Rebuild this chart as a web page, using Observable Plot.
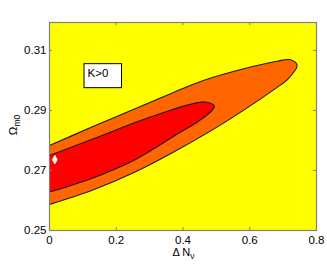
<!DOCTYPE html>
<html>
<head>
<meta charset="utf-8">
<script src="https://cdn.jsdelivr.net/npm/d3@7"></script>
<script src="https://cdn.jsdelivr.net/npm/@observablehq/plot@0.6"></script>
<style>
  html, body { margin: 0; padding: 0; background: white; }
  #chart { width: 327px; height: 265px; }
</style>
</head>
<body>
<div id="chart"></div>
<script>
// Tick values
const xTicks = [0, 0.2, 0.4, 0.6, 0.8];
const yTicks = [0.25, 0.27, 0.29, 0.31];

// Outer (2-sigma) contour, upper branch from x=0 to tip
const outerUpperX = [0, 0.132, 0.267, 0.363, 0.461, 0.582, 0.682, 0.722, 0.742];
const outerUpperY = [0.2783, 0.2847, 0.2911, 0.2956, 0.3000, 0.3039, 0.3064, 0.3069, 0.3050];
// Outer contour, lower branch from tip back to x=0
const outerLowerX = [0.712, 0.682, 0.582, 0.482, 0.368, 0.255, 0.132, 0];
const outerLowerY = [0.3002, 0.2977, 0.2901, 0.2831, 0.2759, 0.2694, 0.2636, 0.2587];

// Inner (1-sigma) contour, upper branch
const innerUpperX = [0, 0.132, 0.267, 0.36, 0.443, 0.467, 0.494];
const innerUpperY = [0.2750, 0.2806, 0.2864, 0.2900, 0.2926, 0.2928, 0.2915];
// Inner contour, lower branch
const innerLowerX = [0.487, 0.443, 0.393, 0.255, 0.132, 0];
const innerLowerY = [0.2900, 0.2861, 0.2828, 0.2735, 0.2676, 0.2628];

// Best-fit point
const bestX = [0.016];
const bestY = [0.2736];

const legendText = ["K>0"];

function polygon(ux, uy, lx, ly) {
  const pts = ux.map((x, i) => ({x, y: uy[i]}));
  lx.forEach((x, i) => pts.push({x, y: ly[i]}));
  return pts;
}
const outerPoly = polygon(outerUpperX, outerUpperY, outerLowerX, outerLowerY);
const innerPoly = polygon(innerUpperX, innerUpperY, innerLowerX, innerLowerY);
const best = bestX.map((x, i) => ({x, y: bestY[i]}));

const W = 327, H = 265, mL = 49, mR = 11, mT = 22, mB = 35;
const fw = W - mL - mR, fh = H - mT - mB;
const gray = "#808080";
const font = "Liberation Sans, Arial, sans-serif";

const chart = Plot.plot({
  width: W, height: H,
  marginLeft: mL, marginRight: mR, marginTop: mT, marginBottom: mB,
  x: {domain: [0, 0.8]},
  y: {domain: [0.25, 0.3193]},
  style: {fontFamily: font, fontSize: "11.5px", background: "white", color: "black"},
  marks: [
    Plot.frame({fill: "#ffff00", stroke: "none"}),
    Plot.line(outerPoly, {x: "x", y: "y", curve: "catmull-rom", fill: "#ff6600", stroke: "#1c1c28", strokeWidth: 1.1}),
    Plot.line(innerPoly, {x: "x", y: "y", curve: "catmull-rom", fill: "#ff0000", stroke: "#1c1c28", strokeWidth: 1.1}),
    Plot.dot(best, {x: "x", y: "y", symbol: "diamond", r: 2.6, fill: "white", stroke: "white", strokeWidth: 0.8}),
    Plot.text(legendText, {frameAnchor: "top-left", dx: 38, dy: 46, lineAnchor: "top", textAnchor: "start", fontSize: 11.5, fill: "black", className: "legend-text"}),
    // inner ticks on all four sides
    Plot.ruleX(xTicks, {x: d => d, insetTop: fh - 3, stroke: gray}),
    Plot.ruleX(xTicks, {x: d => d, insetBottom: fh - 3, stroke: gray}),
    Plot.ruleY(yTicks, {y: d => d, insetRight: fw - 3, stroke: gray}),
    Plot.ruleY(yTicks, {y: d => d, insetLeft: fw - 3, stroke: gray}),
    Plot.axisX(xTicks, {tickSize: 0, tickPadding: 5, tickFormat: d => d === 0 ? "0" : String(d), label: null}),
    Plot.axisY(yTicks, {tickSize: 0, tickPadding: 3, tickFormat: d => d.toFixed(2), label: null}),
    Plot.frame({stroke: gray, strokeWidth: 1.2})
  ]
});

document.getElementById("chart").appendChild(chart);

const svg = d3.select(chart);
// legend box sized from the text
const g = chart.querySelector(".legend-text");
const lt = g && g.querySelector("text");
if (lt) {
  const sr = chart.getBoundingClientRect();
  const tr = lt.getBoundingClientRect();
  svg.insert("rect", () => g)
    .attr("x", tr.left - sr.left - 3.5).attr("y", tr.top - sr.top - 3)
    .attr("width", 37.5).attr("height", 24)
    .attr("fill", "white").attr("stroke", "black").attr("stroke-width", 1);
}

// x axis label: Δ N_ν
const xl = svg.append("text")
  .attr("x", mL + fw / 2 + 1).attr("y", 255.5)
  .attr("text-anchor", "middle")
  .attr("font-family", font)
  .attr("font-size", 11).attr("fill", "black");
xl.append("tspan").text("Δ N");
xl.append("tspan").attr("dy", 3.5).attr("font-size", 8.5).text("ν");

// y axis label: Ω_m0
const yl = svg.append("text")
  .attr("transform", `translate(16.5,${mT + fh / 2 - 1}) rotate(-90)`)
  .attr("text-anchor", "middle")
  .attr("font-family", font)
  .attr("font-size", 11.5).attr("fill", "black");
yl.append("tspan").text("Ω");
yl.append("tspan").attr("dy", 3.5).attr("font-size", 8.5).text("m0");
</script>
</body>
</html>
